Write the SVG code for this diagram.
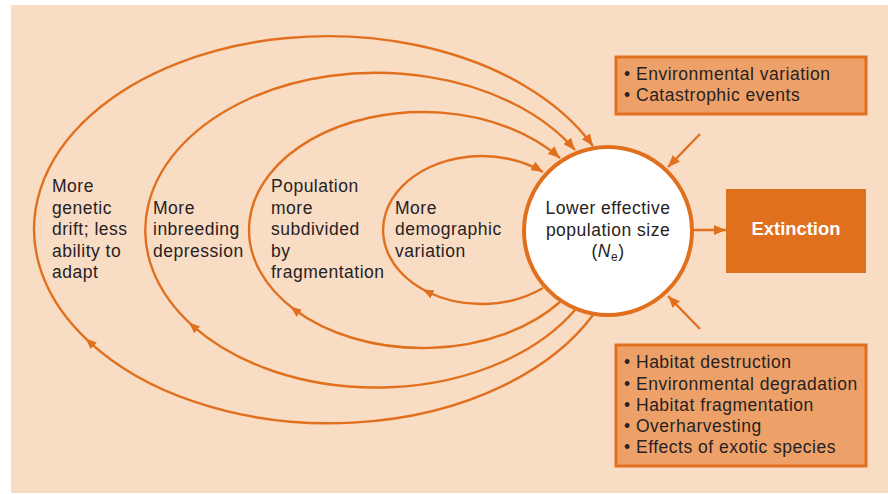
<svg xmlns="http://www.w3.org/2000/svg" width="888" height="494" viewBox="0 0 888 494">
<style>
.t{font-family:"Liberation Sans",Arial,sans-serif;font-size:17.5px;letter-spacing:0.5px;fill:#262223}
.loop{fill:none;stroke:#E1701E;stroke-width:2.4}
.box{fill:#EDA169;stroke:#E1701E;stroke-width:3}
</style>
<defs>
<marker id="ah" viewBox="0 0 12 10" refX="12" refY="5" markerWidth="12" markerHeight="10" markerUnits="userSpaceOnUse" orient="auto"><path d="M0,0 L12,5 L0,10 z" fill="#E1701E"/></marker>
<marker id="am" viewBox="0 0 11 9" refX="6" refY="4.5" markerWidth="11" markerHeight="9" markerUnits="userSpaceOnUse" orient="auto"><path d="M0,0 L11,4.5 L0,9 z" fill="#E1701E"/></marker>
</defs>
<rect x="11" y="5" width="877" height="488" fill="#F9DCC4"/>
<g id="connectors">
<path class="loop" d="M543,288 A98.7,74 0 0 1 427.2,291.7 A98.7,74 0 1 1 543,172" marker-mid="url(#am)" marker-end="url(#ah)"/>
<path class="loop" d="M560,302 A173.5,118 0 0 1 294.6,309.7 A173.5,118 0 1 1 560,158" marker-mid="url(#am)" marker-end="url(#ah)"/>
<path class="loop" d="M575,310 A231,157.5 0 0 1 192.7,325.9 A231,157.5 0 1 1 575,150" marker-mid="url(#am)" marker-end="url(#ah)"/>
<path class="loop" d="M593,315 A293.8,193 0 0 1 89.3,341.8 A293.8,193 0 1 1 593,146" marker-mid="url(#am)" marker-end="url(#ah)"/>
<path class="loop" d="M700,134 L668,167" marker-end="url(#ah)"/>
<path class="loop" d="M700,329 L668,296" marker-end="url(#ah)"/>
<path class="loop" d="M693,230 L726,230" marker-end="url(#ah)"/>
</g>
<g id="ne">
<circle cx="608" cy="231" r="84" fill="#FFFFFF" stroke="#E1701E" stroke-width="4"/>
<text class="t" text-anchor="middle"><tspan x="608" y="214">Lower effective</tspan><tspan x="608" y="235.5">population size</tspan><tspan x="608" y="257">(<tspan font-style="italic">N</tspan><tspan font-size="12" dy="4">e</tspan><tspan dy="-4">)</tspan></tspan></text>
</g>
<g id="extinction">
<rect x="726" y="189" width="140" height="84" fill="#E1701E"/>
<text x="796" y="235" text-anchor="middle" font-family="'Liberation Sans',Arial,sans-serif" font-size="18.4" font-weight="bold" fill="#FFFFFF">Extinction</text>
</g>
<g id="top-factors">
<rect class="box" x="616" y="57" width="250" height="57"/>
<text class="t"><tspan x="624" y="79.5">• Environmental variation</tspan><tspan x="624" y="101">• Catastrophic events</tspan></text>
</g>
<g id="bottom-factors">
<rect class="box" x="616" y="345" width="250" height="121"/>
<text class="t"><tspan x="624" y="368.3">• Habitat destruction</tspan><tspan x="624" y="389.5">• Environmental degradation</tspan><tspan x="624" y="410.7">• Habitat fragmentation</tspan><tspan x="624" y="431.9">• Overharvesting</tspan><tspan x="624" y="453">• Effects of exotic species</tspan></text>
</g>
<g id="label-drift">
<text class="t"><tspan x="52" y="192">More</tspan><tspan x="52" y="213.5">genetic</tspan><tspan x="52" y="235">drift; less</tspan><tspan x="52" y="256.5">ability to</tspan><tspan x="52" y="278">adapt</tspan></text>
</g>
<g id="label-inbreeding">
<text class="t"><tspan x="153" y="213.5">More</tspan><tspan x="153" y="235">inbreeding</tspan><tspan x="153" y="256.5">depression</tspan></text>
</g>
<g id="label-subdivided">
<text class="t"><tspan x="271" y="192">Population</tspan><tspan x="271" y="213.5">more</tspan><tspan x="271" y="235">subdivided</tspan><tspan x="271" y="256.5">by</tspan><tspan x="271" y="278">fragmentation</tspan></text>
</g>
<g id="label-demographic">
<text class="t"><tspan x="395" y="213.5">More</tspan><tspan x="395" y="235">demographic</tspan><tspan x="395" y="256.5">variation</tspan></text>
</g>
</svg>
